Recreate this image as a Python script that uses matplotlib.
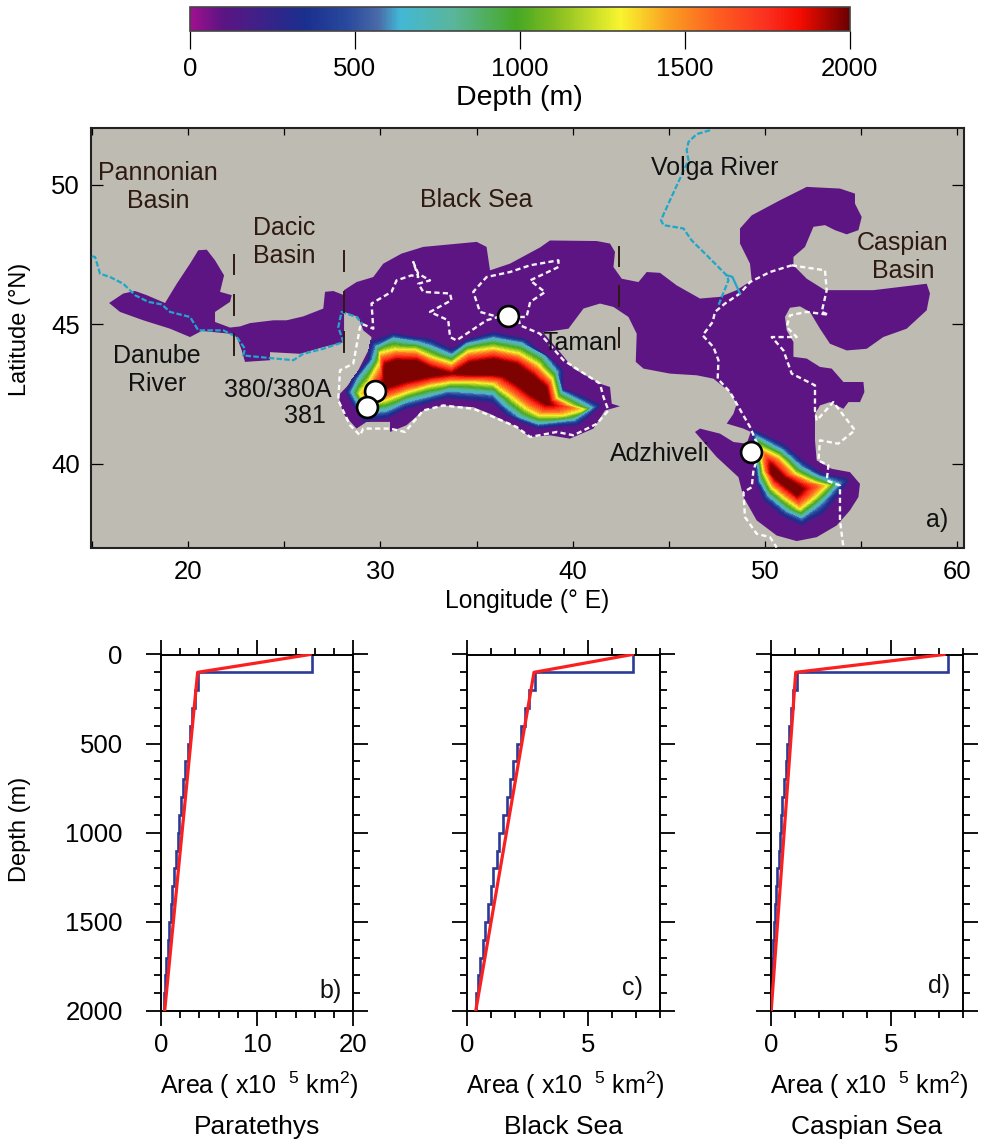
import numpy as np
import matplotlib
matplotlib.use("Agg")
import matplotlib.pyplot as plt
from matplotlib.cm import ScalarMappable
from matplotlib.colors import LinearSegmentedColormap, Normalize
from matplotlib.ticker import MultipleLocator
from matplotlib.tri import Triangulation

plt.rcParams['font.family'] = ['Liberation Sans', 'DejaVu Sans']
plt.rcParams['mathtext.default'] = 'regular'

# colour scale
cmap_depths = [0, 100, 350, 480, 570, 636, 800, 990, 1100, 1306, 1450, 1600, 1750, 1850, 2000]
cmap_colors = ['#a0108f', '#5a1583', '#1a2f8e', '#2a4a9e', '#4a6aa8', '#42b8d5', '#5ab59a', '#46a825',
               '#7fbb20', '#f8f52f', '#faa022', '#fd5e20', '#fb3020', '#f50c00', '#6b0000']

# shelf outline (lon, lat)
shelf_lon = [15.89, 16.63, 17.24, 17.85, 18.80, 19.41, 20.10, 20.53, 20.97, 21.40, 21.87, 21.66, 22.27, 22.18,
             21.40, 21.40, 22.18, 22.70, 23.22, 24.43, 25.12, 25.99, 27.03, 27.12, 27.55, 28.11, 28.11, 28.76,
             29.63, 30.15, 31.10, 32.23, 33.62, 35.01, 35.52, 35.70, 36.74, 38.30, 38.82, 41.25, 41.94, 42.20,
             42.12, 42.55, 43.42, 43.85, 44.54, 45.41, 46.62, 47.66, 48.53, 49.31, 49.22, 48.70, 48.70, 49.31,
             50.78, 52.17, 53.90, 54.68, 54.68, 55.03, 54.86, 54.25, 53.64, 53.12, 52.52, 52.08, 51.48, 51.48,
             52.17, 53.12, 55.64, 58.41, 58.58, 58.41, 57.37, 56.15, 55.29, 54.25, 53.38, 52.86, 52.34, 51.82,
             51.30, 51.04, 51.13, 51.48, 51.48, 52.17, 52.86, 53.47, 54.08, 55.12, 55.17, 54.94, 54.34, 54.08,
             53.38, 52.86, 52.60, 52.60, 52.69, 53.47, 54.42, 54.94, 54.86, 54.42, 53.73, 52.69, 51.65, 50.61,
             49.57, 48.88, 48.62, 47.49, 46.36, 46.62, 47.66, 48.36, 49.05, 49.26, 48.88, 48.01, 48.36, 48.53,
             48.18, 47.32, 46.45, 45.06, 43.68, 43.28, 43.33, 42.90, 42.12, 41.42, 40.56, 39.78, 39.00, 38.44,
             39.34, 40.04, 41.42, 41.94, 42.03, 42.46, 41.68, 41.08, 39.86, 38.82, 37.79, 37.08, 35.70, 34.83,
             33.27, 32.23, 31.36, 30.50, 30.50, 29.28, 28.76, 28.07, 27.81, 28.24, 28.76, 29.46, 29.54, 29.11,
             28.85, 28.11, 28.11, 27.03, 25.82, 24.26, 24.26, 22.96, 22.79, 22.53, 22.18, 20.71, 20.10, 19.06,
             17.67, 16.46]
shelf_lat = [45.76, 46.10, 46.19, 46.04, 45.76, 46.45, 47.17, 47.65, 47.67, 47.29, 46.75, 46.16, 46.04, 45.80,
             45.44, 45.08, 44.88, 44.92, 45.04, 45.14, 45.14, 45.28, 45.56, 46.16, 46.19, 46.04, 46.22, 46.51,
             46.69, 47.17, 47.53, 47.77, 47.86, 47.95, 47.77, 46.93, 47.17, 47.75, 48.00, 47.98, 47.89, 47.59,
             47.05, 46.63, 46.51, 46.87, 46.84, 46.39, 45.92, 45.98, 46.22, 46.57, 47.17, 47.89, 48.43, 48.90,
             49.44, 49.92, 49.86, 49.68, 49.32, 48.84, 48.37, 48.22, 48.37, 48.55, 48.49, 47.77, 47.41, 47.11,
             46.63, 46.22, 46.22, 46.45, 46.10, 45.50, 44.84, 44.54, 44.12, 44.06, 44.30, 44.84, 45.44, 45.64,
             45.59, 45.26, 44.78, 44.36, 43.83, 43.77, 43.47, 43.41, 42.93, 42.93, 42.57, 42.21, 42.21, 41.97,
             42.21, 42.09, 41.79, 40.84, 40.12, 39.82, 39.70, 39.28, 38.81, 38.33, 37.79, 37.37, 37.23, 37.43,
             37.97, 38.81, 39.52, 40.24, 41.14, 41.26, 41.08, 40.78, 40.72, 41.14, 41.26, 41.44, 41.79, 42.15,
             42.57, 43.05, 43.17, 43.23, 43.41, 43.65, 44.66, 45.26, 45.62, 45.74, 45.56, 44.84, 44.76, 44.72,
             44.00, 43.41, 42.87, 42.75, 42.15, 42.06, 41.91, 41.26, 40.90, 41.02, 40.96, 41.32, 41.79, 42.03,
             42.09, 41.91, 41.38, 41.14, 41.50, 41.50, 41.26, 41.79, 42.45, 42.75, 43.23, 44.18, 44.54, 44.78,
             45.26, 45.44, 44.36, 44.18, 43.94, 44.00, 43.71, 43.65, 44.06, 44.54, 44.66, 44.76, 44.54, 44.84,
             45.14, 45.44]
shelf_depth = 100

# depth of the four contour rings, outermost first
ring_depths = [150, 650, 1300, 1950]

# Black Sea rings
black_lon = [
    [29.50, 30.68, 31.72, 32.58, 33.71, 34.49, 35.88, 37.52, 38.74, 39.52, 39.52, 40.55, 41.51, 40.29,
     38.22, 37.26, 36.40, 36.14, 35.88, 34.66, 33.45, 32.41, 31.20, 30.33, 29.12, 28.16, 28.51, 29.29],
    [29.81, 30.68, 31.80, 32.67, 33.71, 34.49, 35.88, 37.35, 38.47, 39.17, 39.43, 40.29, 40.99, 40.03,
     38.22, 37.26, 36.57, 36.14, 35.88, 34.75, 33.54, 32.58, 31.28, 30.33, 29.12, 28.51, 28.86, 29.60],
    [29.98, 30.76, 31.80, 32.58, 33.71, 34.58, 35.88, 37.18, 38.22, 38.91, 39.17, 39.86, 40.55, 39.52,
     38.30, 37.61, 36.83, 36.22, 35.88, 34.84, 33.62, 32.58, 31.37, 30.24, 29.38, 28.94, 29.29, 29.95],
    [30.24, 30.85, 31.89, 32.58, 33.71, 34.66, 35.88, 37.09, 37.96, 38.65, 38.82, 38.89, 38.89, 38.65,
     38.47, 37.78, 37.09, 36.40, 35.88, 34.84, 33.71, 32.58, 31.37, 30.24, 30.21, 30.16, 30.16, 30.16],
]
black_lat = [
    [44.40, 44.69, 44.55, 44.49, 44.13, 44.45, 44.72, 44.49, 43.83, 43.35, 42.69, 42.42, 42.10, 41.38,
     41.26, 41.50, 41.80, 41.98, 42.16, 42.27, 42.34, 42.16, 41.92, 41.62, 41.50, 42.57, 43.00, 43.71],
    [44.19, 44.49, 44.37, 44.19, 43.89, 44.28, 44.49, 44.31, 43.89, 43.29, 42.57, 42.27, 42.01, 41.58,
     41.44, 41.68, 42.04, 42.33, 42.51, 42.57, 42.63, 42.45, 42.22, 41.92, 41.80, 42.57, 43.05, 43.71],
    [43.95, 44.09, 44.07, 43.83, 43.59, 44.01, 44.13, 43.95, 43.53, 43.05, 42.33, 42.09, 41.94, 41.74,
     41.74, 41.98, 42.39, 42.69, 42.87, 42.93, 42.93, 42.81, 42.57, 42.28, 42.03, 42.51, 42.81, 43.59],
    [43.59, 43.73, 43.71, 43.47, 43.25, 43.65, 43.77, 43.59, 43.17, 42.75, 42.22, 42.13, 42.11, 42.10,
     42.16, 42.45, 42.81, 43.11, 43.17, 43.17, 43.21, 43.11, 42.93, 42.69, 42.72, 42.81, 42.99, 43.35],
]

# South Caspian rings
caspian_lon = [
    [49.31, 50.96, 52.00, 53.04, 54.42, 53.90, 53.04, 51.91, 50.96, 49.92, 49.57, 49.40],
    [49.57, 50.87, 51.86, 52.86, 53.81, 53.12, 52.52, 51.91, 51.13, 50.18, 49.74, 49.57],
    [49.83, 50.70, 51.56, 52.52, 53.21, 52.69, 52.26, 51.82, 50.96, 50.35, 49.92, 49.80],
    [50.30, 50.61, 51.04, 51.65, 52.03, 51.82, 51.65, 51.48, 50.96, 50.52, 50.30, 50.26],
]
caspian_lat = [
    [41.26, 40.72, 40.12, 39.64, 39.46, 38.93, 38.21, 37.79, 38.09, 38.69, 39.28, 40.12],
    [40.96, 40.48, 39.88, 39.52, 39.28, 38.75, 38.39, 38.09, 38.33, 38.87, 39.40, 40.24],
    [40.54, 40.24, 39.64, 39.34, 39.22, 38.87, 38.63, 38.39, 38.81, 39.16, 39.76, 40.24],
    [40.00, 39.82, 39.52, 39.28, 39.10, 38.92, 38.84, 38.95, 39.22, 39.46, 39.64, 39.82],
]

# rivers
danube_lon = [14.99, 15.16, 15.42, 15.94, 16.63, 17.24, 17.93, 18.63, 19.06, 20.10, 20.53, 21.83, 22.53, 22.96,
              22.87, 24.08, 25.47, 25.99, 27.03, 28.07, 27.81, 27.98, 28.76, 29.08]
danube_lat = [47.43, 47.41, 46.81, 46.69, 46.45, 46.04, 45.80, 45.71, 45.44, 45.26, 44.78, 44.78, 44.54, 44.12,
              43.88, 43.80, 43.71, 43.94, 44.12, 44.36, 44.90, 45.44, 45.26, 45.00]
volga_lon = [47.14, 46.45, 46.02, 45.93, 46.02, 45.58, 45.06, 44.59, 44.72, 45.76, 46.19, 46.97, 48.01, 48.10, 47.58]
volga_lat = [51.95, 51.81, 51.53, 51.23, 50.88, 50.22, 49.44, 48.73, 48.55, 48.43, 48.00, 47.47, 46.75, 46.57, 45.68]
volga_arm_lon = [48.01, 48.30, 48.70]
volga_arm_lat = [46.75, 46.70, 46.10]

# modern coastlines
coast_black_lon = [29.08, 29.63, 29.54, 30.58, 30.84, 31.62, 31.97, 31.71, 31.97, 32.58, 31.97, 32.23, 33.62, 33.70,
                   32.58, 33.53, 33.62, 33.96, 35.52, 36.13, 35.18, 34.83, 35.52, 36.74, 37.78, 39.26, 39.26, 37.79,
                   38.56, 37.79, 37.60, 37.17, 37.26, 38.30, 39.52, 41.42, 41.60, 41.86, 41.25, 40.04, 39.17, 37.79,
                   37.08, 35.70, 34.83, 33.27, 32.23, 31.28, 30.50, 29.11, 28.94, 28.42, 27.81, 27.90, 28.59, 28.94,
                   29.08]
coast_black_lat = [45.00, 44.84, 45.74, 46.16, 46.57, 46.75, 46.69, 47.23, 46.81, 46.57, 46.45, 46.16, 46.10, 45.86,
                   45.44, 45.14, 44.54, 44.42, 45.14, 45.26, 45.44, 46.16, 46.69, 46.87, 47.11, 47.29, 47.05, 46.57,
                   46.15, 45.80, 45.26, 45.26, 44.96, 44.66, 43.71, 42.87, 42.39, 41.91, 41.43, 41.02, 41.14, 40.96,
                   41.32, 41.73, 41.97, 42.09, 41.91, 41.14, 41.26, 41.26, 41.02, 41.38, 42.27, 43.35, 43.59, 44.90,
                   45.00]
coast_casp_w_lon = [51.39, 50.26, 49.22, 48.70, 47.92, 47.40, 47.28, 46.76, 47.32, 47.58, 47.54, 48.18, 49.22, 49.74,
                    49.40, 49.31, 48.88, 48.96, 49.57, 50.26, 50.61]
coast_casp_w_lat = [47.11, 46.87, 46.51, 46.10, 45.74, 45.44, 45.08, 44.60, 44.18, 43.71, 43.05, 42.57, 41.32, 40.48,
                    39.76, 39.16, 38.98, 38.09, 37.49, 37.37, 37.00]
coast_casp_e_lon = [51.39, 53.12, 53.21, 52.95, 53.30, 52.17, 51.30, 51.13, 51.65, 50.35, 50.96, 51.39, 52.60, 52.60,
                    52.69, 53.55, 54.68, 53.81, 52.86, 52.78, 53.30, 53.21, 53.90, 53.90, 54.08]
coast_casp_e_lat = [47.11, 46.93, 46.22, 45.44, 45.34, 45.44, 45.32, 44.90, 44.54, 44.54, 44.06, 43.23, 42.81, 41.91,
                    41.55, 42.21, 41.20, 40.72, 40.84, 40.12, 39.94, 39.40, 39.22, 37.97, 37.00]

# drill sites
site_lon = [36.64, 29.72, 29.31, 49.28]
site_lat = [45.29, 42.60, 42.03, 40.41]

# basin divides, three dashes each
divide_lons = [22.39, 28.12, 42.43]
divide_lats = [
    [(47.47, 46.79), (46.04, 45.32), (44.66, 43.89)],
    [(47.63, 46.91), (46.16, 45.44), (44.72, 44.00)],
    [(47.77, 47.08), (46.36, 45.64), (44.88, 44.18)],
]

# hypsometry
depth_edges = [0, 100, 200, 300, 400, 500, 600, 700, 800, 900, 1000, 1100, 1200, 1300, 1400, 1500, 1600, 1700, 1800,
               1900, 2000]
area_para = [15.7, 3.88, 3.54, 3.26, 3.02, 2.77, 2.53, 2.29, 2.08, 1.91, 1.73, 1.53, 1.32, 1.18, 1.01, 0.87, 0.69,
             0.55, 0.42, 0.31]
area_black = [6.88, 2.82, 2.58, 2.40, 2.23, 2.08, 1.91, 1.78, 1.64, 1.47, 1.33, 1.22, 1.08, 0.97, 0.85, 0.74, 0.64,
              0.54, 0.44, 0.35]
area_casp = [7.37, 1.08, 0.94, 0.84, 0.78, 0.69, 0.62, 0.55, 0.48, 0.43, 0.37, 0.33, 0.26, 0.22, 0.17, 0.12, 0.08,
             0.06, 0.03, 0.01]
fit_depth = [0, 100, 2000]
fit_para = [15.5, 3.81, 0.38]
fit_black = [6.85, 2.77, 0.35]
fit_casp = [7.2, 1.04, 0.02]

W, H = 981, 1143
BROWN = '#2e1a12'
fig = plt.figure(figsize=(W / 100, H / 100), dpi=100)


def axes_px(left, top, right, bottom):
    return fig.add_axes([left / W, 1 - bottom / H, (right - left) / W, (bottom - top) / H])


def text_px(x, y, s, **kw):
    fig.text(x / W, 1 - y / H, s, ha='center', va='center', **kw)


depth_cmap = LinearSegmentedColormap.from_list(
    'depth', [(d / 2000, c) for d, c in zip(cmap_depths, cmap_colors)], N=512)
norm = Normalize(0, 2000)

# colour bar
cax = axes_px(190, 7, 849.5, 31)
cb = fig.colorbar(ScalarMappable(norm, depth_cmap), cax=cax, orientation='horizontal')
cb.set_ticks(range(0, 2001, 500))
cb.ax.xaxis.set_minor_locator(MultipleLocator(100))
cax.tick_params(which='major', length=13, width=0.9, labelsize=18.5, pad=6)
cax.tick_params(which='minor', length=6.5, width=0.9)
cb.outline.set_linewidth(1.2)
cb.outline.set_edgecolor('#444444')
text_px(519, 98, 'Depth (m)', fontsize=20.5)

# map
ax = axes_px(91, 128, 964, 547.5)
ax.set_facecolor('#bebbb2')
ax.set_xlim(14.95, 60.35)
ax.set_ylim(37, 52.03)
ax.fill(shelf_lon, shelf_lat, color=depth_cmap(norm(shelf_depth)), lw=0, zorder=1)

levels = list(range(100, 2001, 50))
for ring_lon, ring_lat in [(black_lon, black_lat), (caspian_lon, caspian_lat)]:
    n_rings, n_pts = len(ring_lon), len(ring_lon[0])
    x = np.concatenate(ring_lon)
    y = np.concatenate(ring_lat)
    z = np.repeat(ring_depths, n_pts)
    tris = []
    for k in range(n_rings - 1):
        for i in range(n_pts):
            a = k * n_pts + i
            b = k * n_pts + (i + 1) % n_pts
            tris.append([a, b, a + n_pts])
            tris.append([b, b + n_pts, a + n_pts])
    ax.tricontourf(Triangulation(x, y, tris), z, levels=levels, cmap=depth_cmap, norm=norm, zorder=2)
    ax.fill(ring_lon[-1], ring_lat[-1], color=depth_cmap(norm(1980)), lw=0, zorder=2)

white_dash = dict(color='white', lw=1.7, linestyle=(0, (2.2, 1.4)), zorder=3, alpha=0.95)
ax.plot(coast_black_lon, coast_black_lat, **white_dash)
ax.plot(coast_casp_w_lon, coast_casp_w_lat, **white_dash)
ax.plot(coast_casp_e_lon, coast_casp_e_lat, **white_dash)

ax.plot(danube_lon, danube_lat, color='#1ea7c9', lw=1.6, linestyle=(0, (2.5, 1)), zorder=3)
ax.plot(volga_lon, volga_lat, color='#1ea7c9', lw=1.6, linestyle=(0, (2.5, 1)), zorder=3)
ax.plot(volga_arm_lon, volga_arm_lat, color='#1ea7c9', lw=1.6, zorder=3)

for lon, spans in zip(divide_lons, divide_lats):
    for lat0, lat1 in spans:
        ax.plot([lon, lon], [lat0, lat1], color=BROWN, lw=1.4, zorder=3)

ax.plot(site_lon, site_lat, 'o', ms=15, mfc='white', mec='black', mew=1.9, zorder=4)

ax.text(18.44, 49.91, 'Pannonian\nBasin', color=BROWN, fontsize=18, ha='center', va='center', zorder=5)
ax.text(25.0, 47.94, 'Dacic\nBasin', color=BROWN, fontsize=18, ha='center', va='center', zorder=5)
ax.text(34.98, 49.44, 'Black Sea', color=BROWN, fontsize=18, ha='center', va='center', zorder=5)
ax.text(47.4, 50.59, 'Volga River', color='#111111', fontsize=18, ha='center', va='center', zorder=5)
ax.text(57.18, 47.4, 'Caspian\nBasin', color=BROWN, fontsize=18, ha='center', va='center', zorder=5)
ax.text(18.39, 43.35, 'Danube\nRiver', color='#111111', fontsize=18, ha='center', va='center', zorder=5)
ax.text(24.66, 42.63, '380/380A', color='#111111', fontsize=18, ha='center', va='center', zorder=5)
ax.text(26.08, 41.7, '381', color='#111111', fontsize=18, ha='center', va='center', zorder=5)
ax.text(40.38, 44.32, 'Taman', color='#111111', fontsize=18, ha='center', va='center', zorder=5)
ax.text(44.55, 40.34, 'Adzhiveli', color='#111111', fontsize=18, ha='center', va='center', zorder=5)
ax.text(58.95, 38.0, 'a)', color='#111111', fontsize=18, ha='center', va='center', zorder=5)

ax.xaxis.set_major_locator(MultipleLocator(10))
ax.xaxis.set_minor_locator(MultipleLocator(5))
ax.yaxis.set_major_locator(MultipleLocator(5))
ax.tick_params(axis='x', which='both', direction='in', top=True, length=5, width=0.9)
ax.tick_params(axis='x', which='major', labelsize=18.5, pad=9)
ax.tick_params(axis='y', direction='in', right=True, length=8.5, width=0.9, labelsize=18.5, pad=8)
for s in ax.spines.values():
    s.set_linewidth(1.5)
    s.set_color('#222222')
text_px(527, 601, 'Longitude (\u00b0 E)', fontsize=17.7)
text_px(20, 329, 'Latitude (\u00b0N)', rotation=90, fontsize=17)

# hypsometry panels
panels = [
    (161, 353.3, 20, 10, 2, area_para, fit_para, 'b)', 17.6, 1885, 'Paratethys'),
    (467.3, 660, 8, 5, 1, area_black, fit_black, 'c)', 6.86, 1869, 'Black Sea'),
    (770.7, 963.3, 8, 5, 1, area_casp, fit_casp, 'd)', 7.0, 1860, 'Caspian Sea'),
]
for i, (left, right, xmax, xmaj, xmin_step, area, fit, tag, tag_x, tag_y, name) in enumerate(panels):
    a = axes_px(left, 654.5, right, 1011)
    a.stairs(area, depth_edges, orientation='horizontal', baseline=None, color='#2b3a96', lw=1.9, zorder=2)
    a.plot(fit, fit_depth, color='#fb2020', lw=2.3, zorder=3)
    a.set_xlim(0, xmax)
    a.set_ylim(2000, 0)
    a.xaxis.set_major_locator(MultipleLocator(xmaj))
    a.xaxis.set_minor_locator(MultipleLocator(xmin_step))
    a.yaxis.set_major_locator(MultipleLocator(500))
    a.yaxis.set_minor_locator(MultipleLocator(100))
    a.tick_params(which='major', direction='out', top=True, right=True, length=10.5, width=1.3, labelsize=18.5)
    a.tick_params(which='minor', direction='out', top=True, right=True, length=5.3, width=1.3)
    a.tick_params(axis='x', which='major', pad=5)
    a.tick_params(axis='y', which='major', pad=17)
    if i > 0:
        a.tick_params(axis='y', labelleft=False)
    for s in a.spines.values():
        s.set_linewidth(1.4)
    a.text(tag_x, tag_y, tag, fontsize=18, ha='center', va='center', color='#111111')
    mid = (left + right) / 2
    text_px(mid + 2, 1085, 'Area ( x10 $^{\\ 5}$ km$^{2}$)', fontsize=18)
    text_px(mid, 1127, name, fontsize=19)

text_px(20, 829, 'Depth (m)', rotation=90, fontsize=17)

fig.savefig('out.png', dpi=100)
